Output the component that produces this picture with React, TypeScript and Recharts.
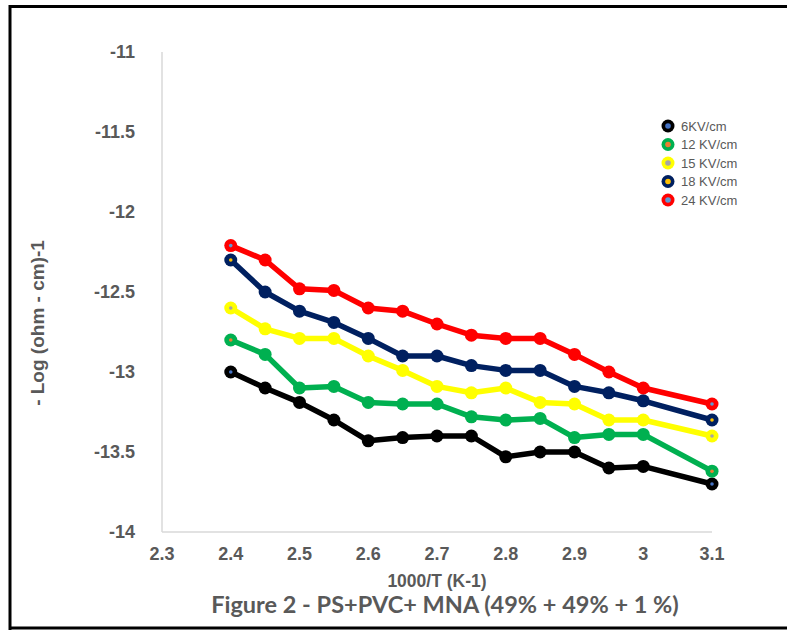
import React from 'react';
import { LineChart, Line, XAxis, YAxis } from 'recharts';

const xValues = [2.4, 2.45, 2.5, 2.55, 2.6, 2.65, 2.7, 2.75, 2.8, 2.85, 2.9, 2.95, 3.0, 3.1];
const s6 = [-13.0, -13.1, -13.19, -13.3, -13.43, -13.41, -13.4, -13.4, -13.53, -13.5, -13.5, -13.6, -13.59, -13.7];
const s12 = [-12.8, -12.89, -13.1, -13.09, -13.19, -13.2, -13.2, -13.28, -13.3, -13.29, -13.41, -13.39, -13.39, -13.62];
const s15 = [-12.6, -12.73, -12.79, -12.79, -12.9, -12.99, -13.09, -13.13, -13.1, -13.19, -13.2, -13.3, -13.3, -13.4];
const s18 = [-12.3, -12.5, -12.62, -12.69, -12.79, -12.9, -12.9, -12.96, -12.99, -12.99, -13.09, -13.13, -13.18, -13.3];
const s24 = [-12.21, -12.3, -12.48, -12.49, -12.6, -12.62, -12.7, -12.77, -12.79, -12.79, -12.89, -13.0, -13.1, -13.2];

const seriesNames = ['6KV/cm', '12 KV/cm', '15 KV/cm', '18 KV/cm', '24 KV/cm'];
const seriesKeys = ['s6', 's12', 's15', 's18', 's24'];
const seriesValues = [s6, s12, s15, s18, s24];
const seriesColors = ['#000000', '#00B050', '#FFFF00', '#002060', '#FF0000'];
const innerColors = ['#4472C4', '#ED7D31', '#A5A5A5', '#FFC000', '#5B9BD5'];

const xTicks = [2.3, 2.4, 2.5, 2.6, 2.7, 2.8, 2.9, 3, 3.1];
const yTicks = [-14, -13.5, -13, -12.5, -12, -11.5, -11];

const data = xValues.map((x, i) => {
  const row: Record<string, number> = { x };
  seriesKeys.forEach((k, j) => {
    row[k] = seriesValues[j][i];
  });
  return row;
});

const makeDot = (color: string, inner: string) => (props: any) => {
  const { cx, cy, index } = props;
  const isEnd = index === 0 || index === xValues.length - 1;
  return (
    <g key={`dot-${color}-${index}`}>
      <circle cx={cx} cy={cy} r={6.5} fill={color} />
      {isEnd && <circle cx={cx} cy={cy} r={1.8} fill={inner} />}
    </g>
  );
};

const tickStyle = { fill: '#595959', fontSize: 18, fontWeight: 700, fontFamily: 'Liberation Sans, Arial, sans-serif' };

export default function App() {
  return (
    <div style={{ position: 'absolute', left: 0, top: 0, width: 787, height: 630, background: '#fff', overflow: 'hidden' }}>
      <div style={{ position: 'absolute', left: 0, top: 0 }}>
        <LineChart width={787} height={630} data={data} margin={{ top: 52, right: 75, left: 102, bottom: 68 }}>
          <XAxis
            dataKey="x"
            type="number"
            domain={[2.3, 3.1]}
            ticks={xTicks}
            axisLine={{ stroke: '#d9d9d9', strokeWidth: 1.5 }}
            tickLine={false}
            tickSize={0}
            tickMargin={15}
            height={30}
            tick={tickStyle}
            interval={0}
          />
          <YAxis
            type="number"
            domain={[-14, -11]}
            ticks={yTicks}
            axisLine={{ stroke: '#d9d9d9', strokeWidth: 1.5 }}
            tickLine={false}
            tickSize={0}
            tickMargin={27}
            width={60}
            tick={tickStyle}
            interval={0}
          />
          {seriesKeys.map((k, j) => (
            <Line
              key={k}
              dataKey={k}
              name={seriesNames[j]}
              stroke={seriesColors[j]}
              strokeWidth={5.5}
              dot={makeDot(seriesColors[j], innerColors[j])}
              activeDot={false}
              isAnimationActive={false}
              strokeLinejoin="round"
            />
          ))}
        </LineChart>
      </div>
      <svg width={787} height={630} style={{ position: 'absolute', left: 0, top: 0, pointerEvents: 'none' }}>
        <line x1={9} y1={6.5} x2={787} y2={6.5} stroke="#000" strokeWidth={3} />
        <line x1={10} y1={5} x2={10} y2={630} stroke="#000" strokeWidth={3} />
        <line x1={9} y1={628} x2={787} y2={628} stroke="#000" strokeWidth={3} />
        {seriesNames.map((n, j) => {
          const cy = 126 + j * 18.5;
          return (
            <g key={n}>
              <circle cx={668} cy={cy} r={6.5} fill={seriesColors[j]} />
              <circle cx={668} cy={cy} r={2.8} fill={innerColors[j]} />
              <text x={681} y={cy + 4.5} fontSize={13} fill="#595959" fontFamily="Liberation Sans, Arial, sans-serif">{n}</text>
            </g>
          );
        })}
        <text x={437} y={587} textAnchor="middle" fontSize={17.5} fontWeight={700} fill="#595959" fontFamily="Liberation Sans, Arial, sans-serif">1000/T (K-1)</text>
        <text x={44} y={323} transform="rotate(-90 44 323)" textAnchor="middle" fontSize={19} fontWeight={700} fill="#595959" fontFamily="Liberation Sans, Arial, sans-serif">- Log  (ohm - cm)-1</text>
        <text x={445} y={613} textAnchor="middle" fontSize={23.5} fontWeight={700} fill="#595959" fontFamily="Lato, sans-serif">Figure 2 - PS+PVC+ MNA (49% + 49% + 1 %)</text>
      </svg>
    </div>
  );
}
